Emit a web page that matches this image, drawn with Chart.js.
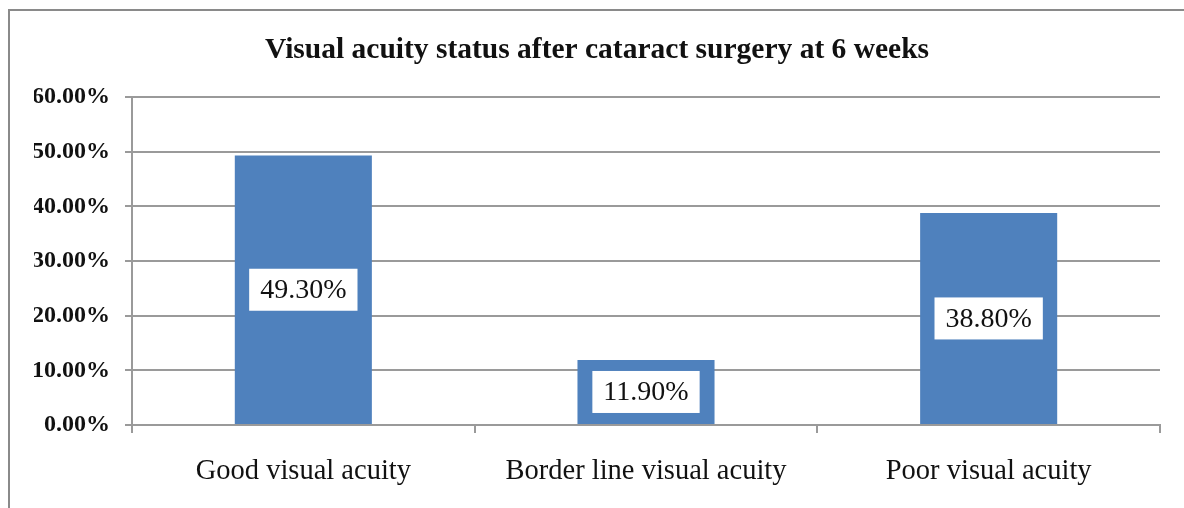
<!DOCTYPE html>
<html>
<head>
<meta charset="utf-8">
<script src="https://cdn.jsdelivr.net/npm/chart.js@4/dist/chart.umd.min.js"></script>
<style>
  html, body { margin: 0; padding: 0; background: #fff; }
  #wrap { position: relative; width: 1184px; height: 508px; }
  #frame { position: absolute; left: 8px; top: 9px; right: 0; bottom: 0; border-left: 2px solid #8a8a8a; border-top: 2px solid #8a8a8a; pointer-events: none; }
  canvas { position: absolute; left: 0; top: 0; }
</style>
</head>
<body>
<div id="wrap">
  <canvas id="c" width="1184" height="508"></canvas>
  <div id="frame"></div>
</div>
<script>
const categories = ["Good visual acuity", "Border line visual acuity", "Poor visual acuity"];
const values = [0.493, 0.119, 0.388];
const valueLabels = ["49.30%", "11.90%", "38.80%"];
const yTicks = [0, 0.1, 0.2, 0.3, 0.4, 0.5, 0.6];
const titleText = "Visual acuity status after cataract surgery at 6 weeks";

const SERIF = "'Liberation Serif', 'DejaVu Serif', serif";
const PAD_LEFT = 34;

const labelBoxes = {
  id: 'labelBoxes',
  afterDatasetsDraw(chart) {
    const ctx = chart.ctx;
    const meta = chart.getDatasetMeta(0);
    ctx.save();
    ctx.font = "28px " + SERIF;
    ctx.textAlign = 'center';
    ctx.textBaseline = 'middle';
    meta.data.forEach((bar, i) => {
      const cx = bar.x;
      const cy = (bar.y + bar.base) / 2;
      const txt = valueLabels[i];
      const w = ctx.measureText(txt).width + 22;
      const h = 42;
      ctx.fillStyle = '#ffffff';
      ctx.fillRect(cx - w / 2, cy - h / 2, w, h);
      ctx.fillStyle = '#111111';
      ctx.fillText(txt, cx, cy + 1);
    });
    ctx.restore();
  }
};

new Chart(document.getElementById('c'), {
  type: 'bar',
  data: {
    labels: categories,
    datasets: [{
      data: values,
      backgroundColor: '#4F81BD',
      borderWidth: 0,
      barPercentage: 0.4,
      categoryPercentage: 1.0
    }]
  },
  options: {
    responsive: false,
    animation: false,
    layout: { padding: { left: PAD_LEFT, right: 24, top: 0, bottom: 0 } },
    plugins: {
      legend: { display: false },
      tooltip: { enabled: false },
      title: {
        display: true,
        text: titleText,
        color: '#111',
        font: { family: SERIF, size: 29.5, weight: 'bold', lineHeight: 1.2 },
        padding: { top: 32.3, bottom: 29.3 }
      }
    },
    scales: {
      x: {
        offset: true,
        grid: { display: true, drawOnChartArea: false, drawTicks: true, tickLength: 8, offset: true, color: '#9a9a9a', lineWidth: 2 },
        border: { display: true, color: '#9a9a9a', width: 2 },
        ticks: { color: '#111', padding: 21, font: { family: SERIF, size: 28.5 } },
        afterFit(scale) { scale.height = 83; }
      },
      y: {
        min: 0,
        max: 0.6,
        afterBuildTicks(scale) { scale.ticks = yTicks.map(v => ({ value: v })); },
        grid: { color: '#9a9a9a', lineWidth: 2, tickLength: 7 },
        border: { display: true, color: '#9a9a9a', width: 2 },
        ticks: {
          color: '#111',
          padding: 15,
          font: { family: SERIF, size: 24, weight: 'bold' },
          callback: (v) => (v * 100).toFixed(2) + '%'
        },
        afterFit(scale) { scale.width = 132 - PAD_LEFT; }
      }
    }
  },
  plugins: [labelBoxes]
});
</script>
</body>
</html>
